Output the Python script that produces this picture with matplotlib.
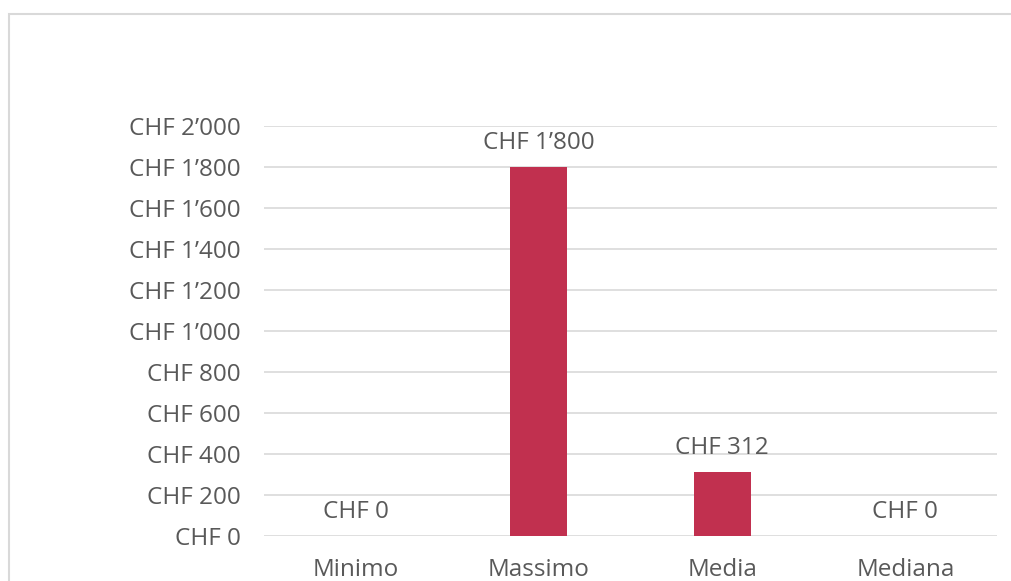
import matplotlib
matplotlib.use("Agg")
import matplotlib.pyplot as plt
from matplotlib.patches import Rectangle

categories = ["Minimo", "Massimo", "Media", "Mediana"]
values = [0, 1800, 312, 0]
yticks = [0, 200, 400, 600, 800, 1000, 1200, 1400, 1600, 1800, 2000]

def fmt(v):
    s = f"{int(round(v)):,}".replace(",", "\u2019")
    return f"CHF {s}"

plt.rcParams['font.family'] = ['Open Sans', 'DejaVu Sans']
W, H = 1011, 581
fig = plt.figure(figsize=(W/100, H/100), dpi=100)
ax = fig.add_axes([264/W, 1-536/H, (997-264)/W, (536-126)/H])

FS = 17.5
x = list(range(len(categories)))
ax.bar(x, values, width=0.31, color="#C1304F", zorder=3)
ax.set_xlim(-0.5, 3.5)
ax.set_ylim(0, 2000)
ax.set_yticks(yticks)
ax.set_yticklabels([fmt(v) for v in yticks])
ax.set_xticks(x)
ax.set_xticklabels(categories)
ax.grid(axis='y', color="#d9d9d9", linewidth=1.2, zorder=0)
for s in ax.spines.values():
    s.set_visible(False)
ax.tick_params(axis='both', length=0, labelsize=FS, colors="#595959")
ax.tick_params(axis='y', pad=16.5)
ax.tick_params(axis='x', pad=15.5)

for xi, v in zip(x, values):
    ax.annotate(fmt(v), (xi, v), xytext=(0, 17.5), textcoords='offset points',
                ha='center', va='center', fontsize=FS, color="#595959")

fig.patches.append(Rectangle((9/W, -0.1), 1.2, 1 - 14/H + 0.1, transform=fig.transFigure,
                             fill=False, edgecolor="#d9d9d9", linewidth=1.5))
fig.savefig("out.png", dpi=100, facecolor="white")
